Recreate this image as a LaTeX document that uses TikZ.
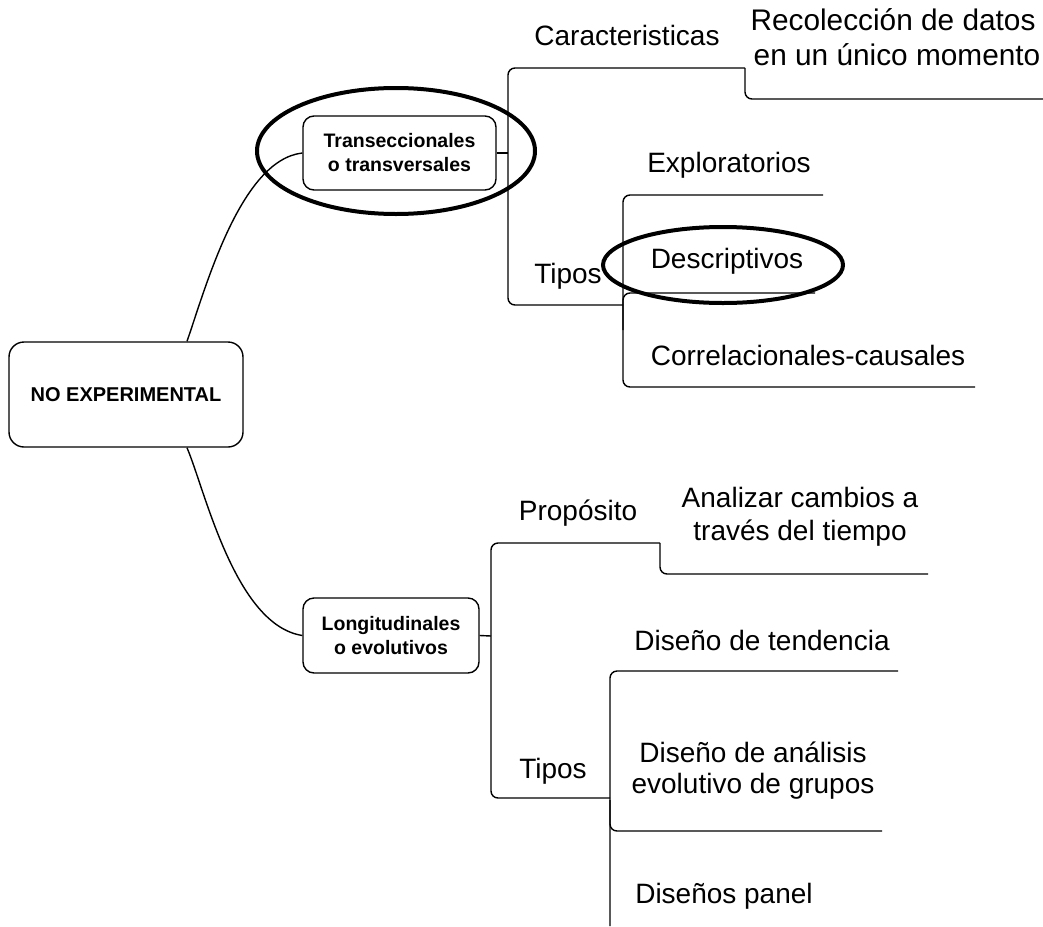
\documentclass[tikz,border=0pt]{standalone}
\usepackage{fontspec}
\setmainfont{Liberation Sans}
\begin{document}
\begin{tikzpicture}[x=1pt,y=-1pt,
  topic/.style={draw, line width=1.4pt, rounded corners=15pt,
    font=\fontsize{20}{24}\selectfont\bfseries, align=center, inner sep=0pt},
  sub/.style={draw, line width=1.4pt, rounded corners=11pt,
    font=\fontsize{19.5}{24}\selectfont\bfseries, align=center, inner sep=0pt},
  lbl/.style={anchor=base, font=\fontsize{28}{34}\selectfont, inner sep=0pt},
  biglbl/.style={lbl, font=\fontsize{29.8}{35}\selectfont},
  branch/.style={line width=1.4pt, rounded corners=7pt},
  link/.style={line width=1.4pt},
  hilite/.style={line width=4pt}
]
\useasboundingbox (0,0) rectangle (1043,926);

% main topics
\node[topic, minimum width=234pt, minimum height=105pt] (nexp) at (126,394.5) {NO EXPERIMENTAL};
\node[sub, minimum width=193pt, minimum height=74pt] (trans) at (399.5,153) {Transeccionales\\o transversales};
\node[sub, minimum width=176pt, minimum height=75pt] (longi) at (391,635.5) {Longitudinales\\o evolutivos};

% curved links from the root
\draw[link] ([xshift=61pt]nexp.north) .. controls (205,290) and (240,160) .. (trans.west);
\draw[link] ([xshift=61pt]nexp.south) .. controls (205,490) and (235,625) .. (longi.west);

% ---- transversal branch
\coordinate (tj) at (508,153);
\draw[link] (trans.east) -- (tj);
\draw[branch] (623,305) -- (508,305) -- (508,68) -- (745,68);
\draw[branch] (745,68) -- (745,99) -- (1043,99);

\node[lbl] (carac) at (627,45) {Caracteristicas};
\node[biglbl] (rec1) at (893,30) {Recolección de datos};
\node[biglbl] (rec2) at (897,65) {en un único momento};

\node[lbl] (tipos1) at (568,283) {Tipos};
\draw[branch] (823,195) -- (623,195) -- (623,387) -- (975,387);
\draw[branch] (623,330) -- (623,293) -- (815,293);
\node[lbl] (explo) at (729,172) {Exploratorios};
\node[lbl] (descr) at (727,268) {Descriptivos};
\node[lbl] (correl) at (808,365) {Correlacionales-causales};

% highlight rings
\draw[hilite] (396,151) ellipse [x radius=139pt, y radius=63pt];
\draw[hilite] (723,265) ellipse [x radius=120pt, y radius=38pt];

% ---- longitudinal branch
\coordinate (lj) at (491,636);
\draw[link] (longi.east) -- (lj);
\draw[branch] (610,798) -- (491,798) -- (491,543) -- (660,543);
\draw[branch] (660,543) -- (660,574) -- (928,574);

\node[lbl] (prop) at (578,520) {Propósito};
\node[lbl] (ana1) at (800,507) {Analizar cambios a};
\node[lbl] (ana2) at (800,540) {través del tiempo};

\node[lbl] (tipos2) at (553,778) {Tipos};
\draw[branch] (898,671) -- (610,671) -- (610,926);
\draw[branch] (610,800) -- (610,831) -- (882,831);
\node[lbl] (tend) at (762,650) {Diseño de tendencia};
\node[lbl] (anal1) at (753,762) {Diseño de análisis};
\node[lbl] (anal2) at (753,793) {evolutivo de grupos};
\node[lbl] (panel) at (724,903) {Diseños panel};
\end{tikzpicture}
\end{document}
